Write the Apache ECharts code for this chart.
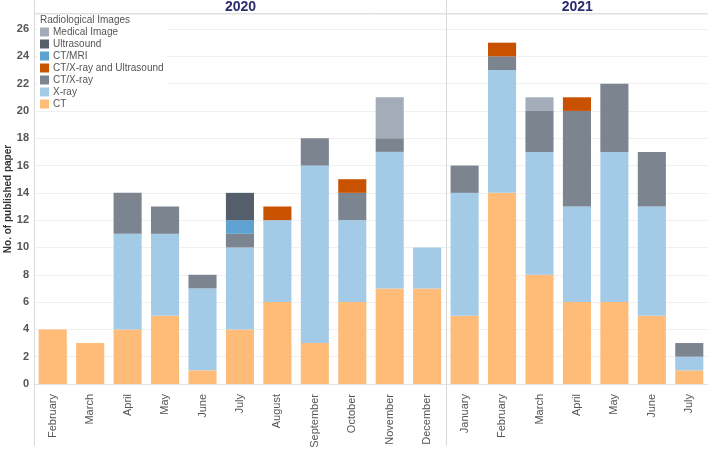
<!DOCTYPE html>
<html>
<head>
<meta charset="utf-8">
<script src="https://cdn.jsdelivr.net/npm/echarts@6/dist/echarts.min.js"></script>
<style>
html,body{margin:0;padding:0;background:#fff;}
#main{width:708px;height:451px;}
</style>
</head>
<body>
<div id="main"></div>
<script>
// ---- data ----
var years = ['2020', '2021'];
var months2020 = ['February','March','April','May','June','July','August','September','October','November','December'];
var months2021 = ['January','February','March','April','May','June','July'];
var months = months2020.concat(months2021);

var ctVals         = [4,3,4,5,1,4,6,3,6,7,7, 5,14,8,6,6,5,1];
var xrayVals       = [null,null,7,6,6,6,6,13,6,10,3, 9,9,9,7,11,8,1];
var ctXrayVals     = [null,null,3,2,1,1,null,2,2,1,null, 2,1,3,7,5,4,1];
var ctXrayUsVals   = [null,null,null,null,null,null,1,null,1,null,null, null,1,null,1,null,null,null];
var ctMriVals      = [null,null,null,null,null,1,null,null,null,null,null, null,null,null,null,null,null,null];
var ultrasoundVals = [null,null,null,null,null,2,null,null,null,null,null, null,null,null,null,null,null,null];
var medicalVals    = [null,null,null,null,null,null,null,null,null,3,null, null,null,1,null,null,null,null];

var yTicks = [0,2,4,6,8,10,12,14,16,18,20,22,24,26];
var yTitle = 'No. of published paper';

var seriesDefs = [
  {name:'CT', data:ctVals, color:'#FFBC79'},
  {name:'X-ray', data:xrayVals, color:'#A3CBE8'},
  {name:'CT/X-ray', data:ctXrayVals, color:'#7B848F'},
  {name:'CT/X-ray and Ultrasound', data:ctXrayUsVals, color:'#C85200'},
  {name:'CT/MRI', data:ctMriVals, color:'#5FA2D1'},
  {name:'Ultrasound', data:ultrasoundVals, color:'#555F6C'},
  {name:'Medical Image', data:medicalVals, color:'#A3ACB8'}
];
var legendOrder = ['Medical Image','Ultrasound','CT/MRI','CT/X-ray and Ultrasound','CT/X-ray','X-ray','CT'];

var FONT = '"Liberation Sans", Arial, sans-serif';
var chart = echarts.init(document.getElementById('main'));

var option = {
  animation: false,
  backgroundColor: '#fff',
  textStyle: {fontFamily: FONT},
  title: {
    text: 'Radiological Images',
    left: 40, top: 15, padding: 0,
    textStyle: {fontSize: 10, fontWeight: 'normal', color: '#555', fontFamily: FONT}
  },
  legend: {
    data: legendOrder,
    orient: 'vertical',
    left: 38, top: 26,
    padding: [0, 4, 0, 2],
    backgroundColor: '#fff',
    itemWidth: 9, itemHeight: 9, itemGap: 0,
    icon: 'rect',
    textStyle: {fontSize: 10, color: '#555', lineHeight: 12, padding: [0,0,0,-1], fontFamily: FONT}
  },
  grid: {left: 34, right: 0, top: 14, bottom: 67, containLabel: false, outerBoundsMode: 'none'},
  xAxis: {
    type: 'category',
    data: months,
    axisLine: {show: true, lineStyle: {color: '#e2e2e2'}},
    axisTick: {show: false},
    axisLabel: {rotate: 90, fontSize: 11, color: '#555', margin: 10, interval: 0, fontFamily: FONT}
  },
  yAxis: {
    type: 'value',
    min: 0, max: 27.1, interval: 2,
    axisLine: {show: false},
    axisTick: {show: false},
    axisLabel: {
      fontSize: 11, fontWeight: 'bold', color: '#555', margin: 5, fontFamily: FONT,
      formatter: function (v) { return yTicks.indexOf(v) >= 0 ? String(v) : ''; }
    },
    splitLine: {lineStyle: {color: '#f0f0f0'}}
  },
  series: seriesDefs.map(function (s) {
    return {
      name: s.name, type: 'bar', stack: 'total',
      data: s.data,
      barCategoryGap: '25%',
      itemStyle: {color: s.color},
      emphasis: {disabled: true}
    };
  })
};
chart.setOption(option);

function drawOverlay() {
  var gridTop = 14, bottomEdge = 446;
  var x0 = chart.convertToPixel({xAxisIndex: 0}, 0);
  var x1 = chart.convertToPixel({xAxisIndex: 0}, 1);
  var leftX = Math.round(x0 - (x1 - x0) / 2) + 0.5;
  var decX = chart.convertToPixel({xAxisIndex: 0}, months2020.length - 1);
  var janX = chart.convertToPixel({xAxisIndex: 0}, months2020.length);
  var divX = Math.round((decX + janX) / 2) + 0.5;
  var rightX = chart.getWidth();
  var yMid = (chart.convertToPixel({yAxisIndex: 0}, 0) + gridTop) / 2;
  chart.setOption({
    graphic: [
      {type: 'line', shape: {x1: leftX, y1: 0, x2: leftX, y2: bottomEdge}, style: {stroke: '#d9d9d9', lineWidth: 1}, z: 10},
      {type: 'line', shape: {x1: divX, y1: 0, x2: divX, y2: bottomEdge}, style: {stroke: '#d9d9d9', lineWidth: 1}, z: 10},
      {type: 'line', shape: {x1: leftX, y1: gridTop - 0.5, x2: rightX, y2: gridTop - 0.5}, style: {stroke: '#e0e0e0', lineWidth: 1}, z: 10},
      {type: 'text', x: (leftX + divX) / 2, y: 7, style: {text: years[0], fill: '#2B2C6E', font: 'bold 14px ' + FONT, align: 'center', verticalAlign: 'middle'}, z: 10},
      {type: 'text', x: (divX + rightX) / 2, y: 7, style: {text: years[1], fill: '#2B2C6E', font: 'bold 14px ' + FONT, align: 'center', verticalAlign: 'middle'}, z: 10},
      {type: 'text', x: 8, y: yMid, rotation: Math.PI / 2, style: {text: yTitle, fill: '#333', font: 'bold 10px ' + FONT, align: 'center', verticalAlign: 'middle'}, z: 10}
    ]
  });
}
drawOverlay();
</script>
</body>
</html>
